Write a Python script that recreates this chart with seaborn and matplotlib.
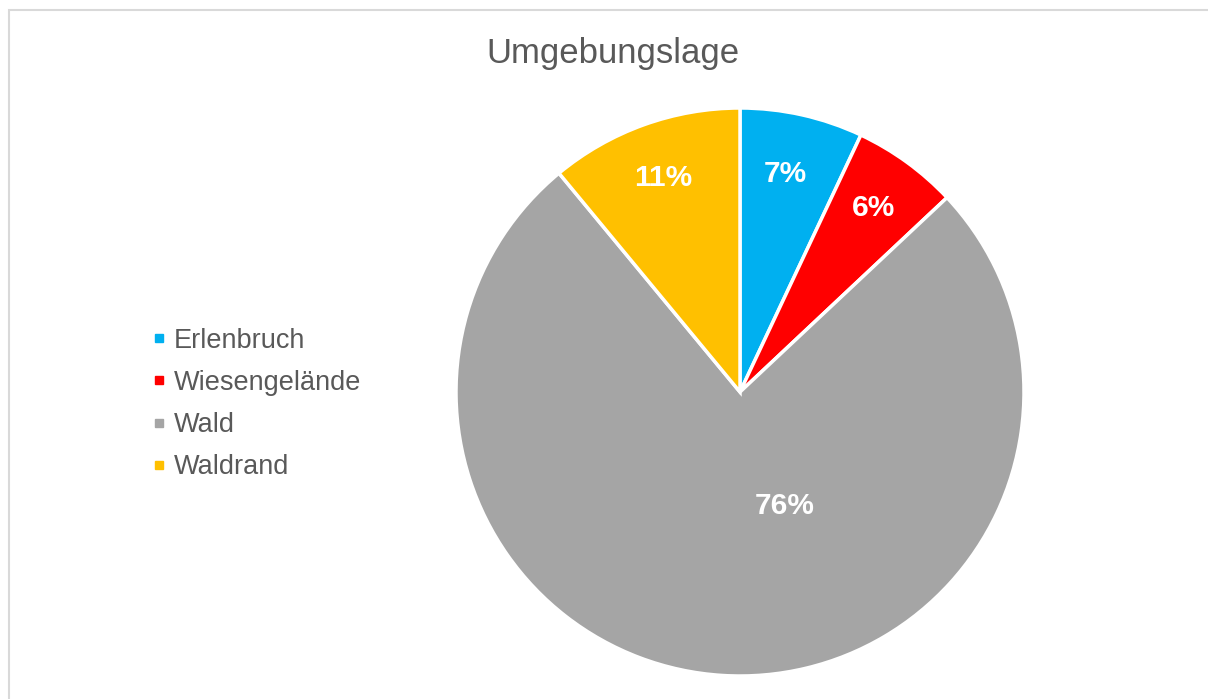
import matplotlib
matplotlib.use("Agg")
import matplotlib.pyplot as plt
import seaborn as sns
from matplotlib.lines import Line2D
from matplotlib.patches import Rectangle

# --- Data ---
categories = ["Erlenbruch", "Wiesengelände", "Wald", "Waldrand"]
shares = [7, 6, 76, 11]
colors = ["#00B0F0", "#FF0000", "#A5A5A5", "#FFC000"]
title = "Umgebungslage"

sns.set_theme(style="white")
plt.rcParams["font.family"] = ["Liberation Sans", "DejaVu Sans"]
text_grey = "#595959"

W, H = 1208, 699
fig = plt.figure(figsize=(W / 100, H / 100), dpi=100)

# pie sits at centre (740, 392) px with radius 284 px
cx, cy, r = 740, 392, 284
ax = fig.add_axes([(cx - r) / W, (H - cy - r) / H, 2 * r / W, 2 * r / H])

wedges, texts, autotexts = ax.pie(
    shares,
    colors=colors,
    startangle=90,
    counterclock=False,
    autopct="%d%%",
    pctdistance=0.80,
    wedgeprops=dict(edgecolor="white", linewidth=2.5),
    textprops=dict(color="white", fontsize=21.5, fontweight="bold"),
)
# Excel placed the big slice label off-centre
autotexts[2].set_position((45 / r, -114 / r))
autotexts[0].set_position((45 / r, 218 / r))
ax.set_xlim(-1, 1)
ax.set_ylim(-1, 1)
ax.set_aspect("equal")

fig.text(613 / W, 1 - 53 / H, title, ha="center", va="center",
         fontsize=25, color=text_grey)

handles = [Line2D([], [], marker="s", linestyle="none", markersize=6,
                  markerfacecolor=c, markeredgecolor=c) for c in colors]
fig.legend(handles, categories, loc="center left",
           bbox_to_anchor=(152 / W, 1 - 404 / H), frameon=False,
           fontsize=19.5, labelcolor=text_grey, handlelength=0.5,
           handletextpad=0.3, labelspacing=0.6, borderaxespad=0,
           borderpad=0)

# thin grey chart-area frame (runs off the right and bottom edges)
fig.patches.append(Rectangle((9 / W, -0.05), 1.2, (H - 10) / H + 0.05,
                             transform=fig.transFigure, fill=False,
                             edgecolor="#D9D9D9", linewidth=1.5))

fig.savefig("out.png", dpi=100)
